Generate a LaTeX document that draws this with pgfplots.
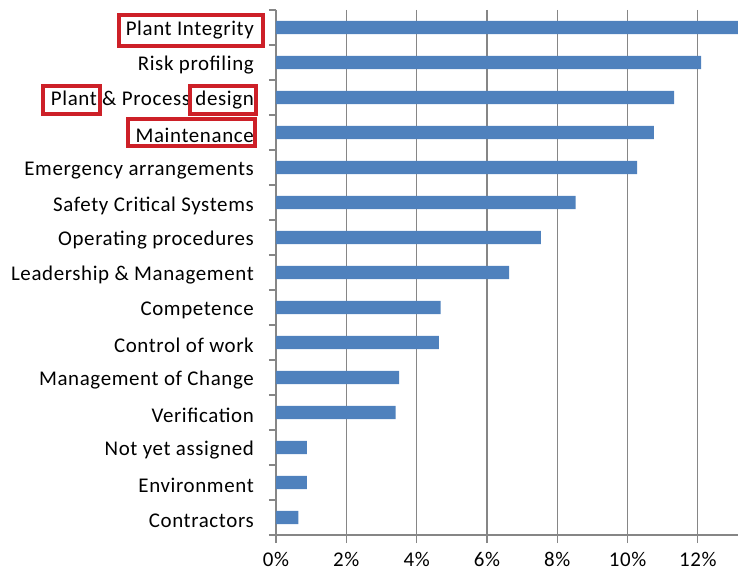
\documentclass[border=0pt]{standalone}
\usepackage{fontspec}
\setmainfont{Carlito}[LetterSpace=3]
\usepackage{pgfplots}
\pgfplotsset{compat=1.18}
\definecolor{barblue}{RGB}{79,129,189}
\definecolor{gridgray}{RGB}{134,134,134}
\definecolor{boxred}{RGB}{205,32,40}
\newcommand\lbl{\fontsize{21}{24}\selectfont}
\begin{document}
\begin{tikzpicture}[x=1bp,y=1bp]
\path[use as bounding box] (-276,-38) rectangle (462,535);
\begin{axis}[
  at={(0,0)}, anchor=south west,
  scale only axis, width=462bp, height=525bp,
  xbar, bar width=0.385,
  xmin=0, xmax=13.14, ymin=-0.5, ymax=14.5, y dir=reverse,
  axis x line*=bottom, axis y line*=left,
  axis line style={gridgray, line width=1.1bp, -},
  xtick={0,2,...,12}, xmajorgrids,
  major grid style={gridgray, line width=1.1bp},
  tick align=outside, major tick length=8bp, minor tick length=7bp,
  tick style={gridgray, line width=1.1bp},
  ytick={0,...,14},
  minor ytick={-0.5,0.5,...,14.5},
  major y tick style={draw=none},
  yticklabels={Plant Integrity, Risk profiling, Plant \& Process design, Maintenance, Emergency arrangements, Safety Critical Systems, Operating procedures, Leadership \& Management, Competence, Control of work, Management of Change, Verification, Not yet assigned, Environment, Contractors},
  yticklabel style={font=\lbl, anchor=east, inner sep=0pt, xshift=-14bp, yshift=-3bp},
  /pgf/number format/assume math mode=true,
  xticklabel={\pgfmathprintnumber{\tick}\%},
  xticklabel style={font=\lbl, anchor=north, inner sep=0pt, yshift=-9bp},
]
\addplot[fill=barblue, draw=none] coordinates {
(13.4,0) (12.09,1) (11.32,2) (10.75,3) (10.27,4) (8.52,5) (7.53,6) (6.63,7)
(4.68,8) (4.63,9) (3.50,10) (3.40,11) (0.88,12) (0.88,13) (0.64,14)};
\end{axis}
\begin{scope}[boxred, line width=3.5bp]
\draw (-157,520) rectangle (-13,489);
\draw (-233,449) rectangle (-176,421);
\draw (-86,449) rectangle (-20,421);
\draw (-148,416) rectangle (-21,389);
\end{scope}
\end{tikzpicture}
\end{document}
